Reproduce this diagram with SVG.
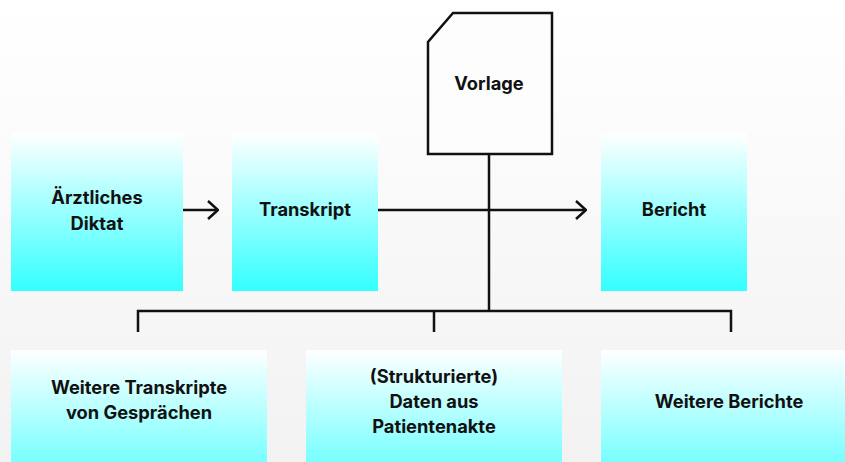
<svg xmlns="http://www.w3.org/2000/svg" width="845" height="462" viewBox="0 0 845 462">
<defs>
<linearGradient id="bg" x1="0" y1="0" x2="0" y2="1">
<stop offset="0" stop-color="#ffffff"/>
<stop offset="1" stop-color="#f2f2f2"/>
</linearGradient>
<linearGradient id="cy" x1="0" y1="0" x2="0" y2="1">
<stop offset="0" stop-color="#ffffff"/>
<stop offset="1" stop-color="#33ffff"/>
</linearGradient>
<marker id="arr" viewBox="0 0 12 20" refX="11" refY="10" markerWidth="12" markerHeight="20" markerUnits="userSpaceOnUse" orient="auto">
<path d="M1,1 L11,10 L1,19" fill="none" stroke="#111" stroke-width="2.5"/>
</marker>
<style>
.box{fill:url(#cy);}
.t{font-family:Inter,"Liberation Sans",sans-serif;font-weight:700;font-size:18.3px;fill:#111;text-anchor:middle;}
.ln{fill:none;stroke:#111;stroke-width:2.5;}
</style>
</defs>
<rect width="845" height="462" fill="url(#bg)"/>
<g id="connectors">
<line class="ln" x1="183" y1="210" x2="218" y2="210" marker-end="url(#arr)"/>
<line class="ln" x1="378" y1="210" x2="586" y2="210" marker-end="url(#arr)"/>
<polyline class="ln" points="489,154 489,311"/>
<polyline class="ln" points="138,332 138,311 731,311 731,332"/>
<line class="ln" x1="434" y1="311" x2="434" y2="332"/>
</g>
<g id="node-diktat">
<rect class="box" x="11" y="133" width="172" height="158"/>
<text class="t" x="97" y="204">Ärztliches</text>
<text class="t" x="97" y="230">Diktat</text>
</g>
<g id="node-transkript">
<rect class="box" x="232" y="133" width="146" height="158"/>
<text class="t" x="305" y="216">Transkript</text>
</g>
<g id="node-vorlage">
<path d="M453,13 L552,13 L552,154 L428,154 L428,42 Z" fill="#fdfdfd" stroke="#111" stroke-width="2.5"/>
<text class="t" x="489" y="90">Vorlage</text>
</g>
<g id="node-bericht">
<rect class="box" x="601" y="133" width="146" height="158"/>
<text class="t" x="674" y="216">Bericht</text>
</g>
<g id="node-weitere-transkripte">
<rect class="box" x="11" y="350" width="256" height="170"/>
<text class="t" x="139" y="394">Weitere Transkripte</text>
<text class="t" x="139" y="419">von Gesprächen</text>
</g>
<g id="node-daten">
<rect class="box" x="306" y="350" width="256" height="170"/>
<text class="t" x="434" y="383">(Strukturierte)</text>
<text class="t" x="434" y="408">Daten aus</text>
<text class="t" x="434" y="433">Patientenakte</text>
</g>
<g id="node-weitere-berichte">
<rect class="box" x="601" y="350" width="256" height="170"/>
<text class="t" x="729" y="408">Weitere Berichte</text>
</g>
</svg>
